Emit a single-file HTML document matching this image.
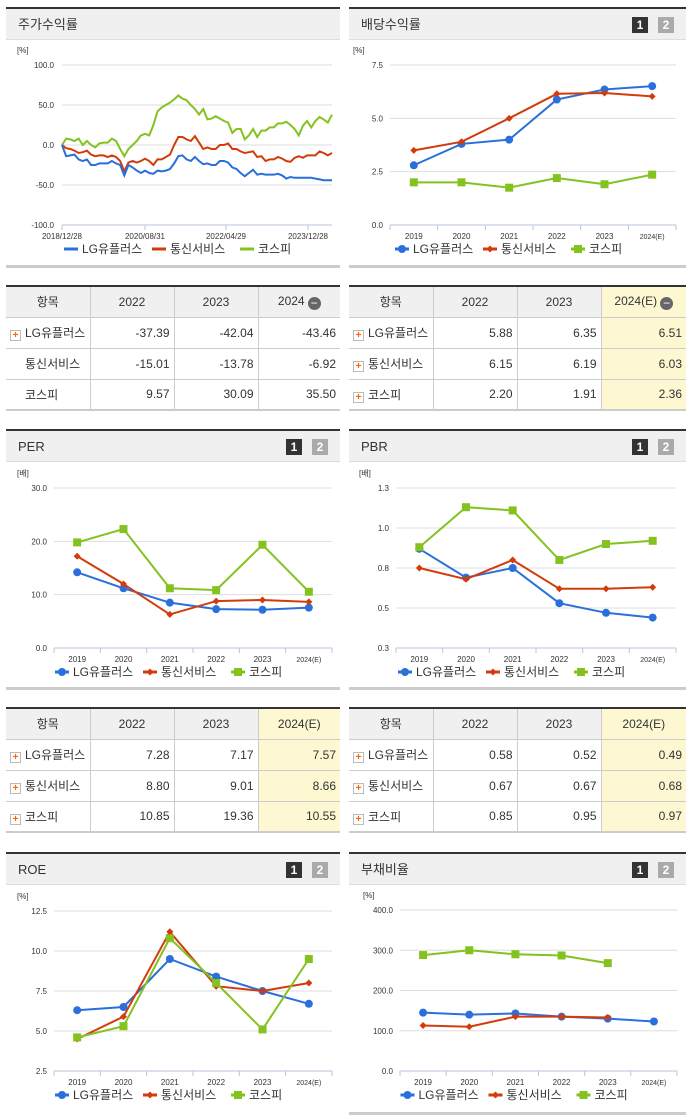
<!DOCTYPE html>
<html><head><meta charset="utf-8">
<style>
*{margin:0;padding:0;box-sizing:border-box}
body{width:691px;height:1115px;background:#fff;position:relative;overflow:hidden;font-family:"Liberation Sans","Noto Sans CJK KR",sans-serif;color:#333}
.panel{position:absolute;border-top:2px solid #333;border-bottom:3px solid #ccc}
.hdr{height:31px;background:#f0f0f0;border-bottom:1px solid #ddd;font-size:13px;line-height:31px;padding-left:12px;position:relative}
.b{position:absolute;top:8px;width:16px;height:16px;font-size:12px;font-weight:bold;color:#fff;text-align:center;line-height:16px}
.b1{right:38px;background:#333}.b2{right:12px;background:#aaa}
table{position:absolute;border-collapse:collapse;border-top:2px solid #333;border-bottom:2px solid #ccc;font-size:12px}
td,th{border:1px solid #ccc;height:31px;font-weight:normal}
th{background:#f0f0f0;text-align:center}
td{text-align:right;padding-right:4px}
td:first-child{text-align:left;padding-left:4px}
tr td:first-child,tr th:first-child{border-left:none}
tr td:last-child,tr th:last-child{border-right:none}
.hl{background:#fdf8d2}
.pl{display:inline-block;width:11px;height:11px;border:1px solid #bbb;color:#f60;font-size:10px;line-height:9px;text-align:center;font-weight:bold;margin-right:4px;vertical-align:-1px;background:#fff}
.mi{display:inline-block;width:13px;height:13px;border-radius:50%;background:#666;color:#fff;line-height:12px;font-size:12px;vertical-align:-2px;margin-left:3px}
svg{position:absolute;left:0;top:0}
svg text{font-family:"Liberation Sans","Noto Sans CJK KR",sans-serif}
</style></head><body>
<svg id="sv" width="691" height="1115"></svg>

<div class="panel" style="left:6px;top:7px;width:334px;height:261px"><div class="hdr">주가수익률</div></div>
<div class="panel" style="left:349px;top:7px;width:337px;height:261px"><div class="hdr">배당수익률<span class="b b1">1</span><span class="b b2">2</span></div></div>
<div class="panel" style="left:6px;top:429px;width:334px;height:261px"><div class="hdr">PER<span class="b b1">1</span><span class="b b2">2</span></div></div>
<div class="panel" style="left:349px;top:429px;width:337px;height:261px"><div class="hdr">PBR<span class="b b1">1</span><span class="b b2">2</span></div></div>
<div class="panel" style="left:6px;top:852px;width:334px;height:263px;border-bottom:none"><div class="hdr">ROE<span class="b b1">1</span><span class="b b2">2</span></div></div>
<div class="panel" style="left:349px;top:852px;width:337px;height:263px;border-bottom:3px solid #ccc"><div class="hdr">부채비율<span class="b b1">1</span><span class="b b2">2</span></div></div>

<table style="left:6px;top:285px;width:334px">
<tr><th style="width:84px">항목</th><th style="width:84px">2022</th><th style="width:84px">2023</th><th>2024<span class="mi">−</span></th></tr>
<tr><td><span class="pl">+</span>LG유플러스</td><td>-37.39</td><td>-42.04</td><td>-43.46</td></tr>
<tr><td style="padding-left:19px">통신서비스</td><td>-15.01</td><td>-13.78</td><td>-6.92</td></tr>
<tr><td style="padding-left:19px">코스피</td><td>9.57</td><td>30.09</td><td>35.50</td></tr></table>

<table style="left:349px;top:285px;width:337px">
<tr><th style="width:84px">항목</th><th style="width:84px">2022</th><th style="width:84px">2023</th><th class="hl">2024(E)<span class="mi">−</span></th></tr>
<tr><td><span class="pl">+</span>LG유플러스</td><td>5.88</td><td>6.35</td><td class="hl">6.51</td></tr>
<tr><td><span class="pl">+</span>통신서비스</td><td>6.15</td><td>6.19</td><td class="hl">6.03</td></tr>
<tr><td><span class="pl">+</span>코스피</td><td>2.20</td><td>1.91</td><td class="hl">2.36</td></tr></table>

<table style="left:6px;top:707px;width:334px">
<tr><th style="width:84px">항목</th><th style="width:84px">2022</th><th style="width:84px">2023</th><th class="hl">2024(E)</th></tr>
<tr><td><span class="pl">+</span>LG유플러스</td><td>7.28</td><td>7.17</td><td class="hl">7.57</td></tr>
<tr><td><span class="pl">+</span>통신서비스</td><td>8.80</td><td>9.01</td><td class="hl">8.66</td></tr>
<tr><td><span class="pl">+</span>코스피</td><td>10.85</td><td>19.36</td><td class="hl">10.55</td></tr></table>

<table style="left:349px;top:707px;width:337px">
<tr><th style="width:84px">항목</th><th style="width:84px">2022</th><th style="width:84px">2023</th><th class="hl">2024(E)</th></tr>
<tr><td><span class="pl">+</span>LG유플러스</td><td>0.58</td><td>0.52</td><td class="hl">0.49</td></tr>
<tr><td><span class="pl">+</span>통신서비스</td><td>0.67</td><td>0.67</td><td class="hl">0.68</td></tr>
<tr><td><span class="pl">+</span>코스피</td><td>0.85</td><td>0.95</td><td class="hl">0.97</td></tr></table>

<script>
const years = ["2019","2020","2021","2022","2023","2024(E)"];
const divLG = [2.8,3.8,4.0,5.88,6.35,6.51];
const divTel = [3.5,3.9,5.0,6.15,6.19,6.03];
const divKos = [2.0,2.0,1.75,2.2,1.91,2.36];
const perLG = [14.2,11.2,8.5,7.28,7.17,7.57];
const perTel = [17.2,12.0,6.3,8.8,9.01,8.66];
const perKos = [19.8,22.3,11.2,10.85,19.36,10.55];
const pbrLG = [0.92,0.74,0.8,0.58,0.52,0.49];
const pbrTel = [0.80,0.73,0.85,0.67,0.67,0.68];
const pbrKos = [0.93,1.18,1.16,0.85,0.95,0.97];
const pbrTickLabels = ["0.3","0.5","0.8","1.0","1.3"];
const roeLG = [6.3,6.5,9.5,8.4,7.5,6.7];
const roeTel = [4.5,5.9,11.2,7.8,7.5,8.0];
const roeKos = [4.6,5.3,10.8,8.0,5.1,9.5];
const debtLG = [145,140,143,135,130,123];
const debtTel = [113,110,135,135,133,null];
const debtKos = [288,300,290,287,268,null];
const stockDates = ["2018/12/28","2020/08/31","2022/04/29","2023/12/28"];
const stockKos = [0,8,7,5,8,0,5,0,-3,2,3,3,8,5,-5,-14,-5,0,5,12,14,12,25,42,47,50,53,57,62,58,56,50,45,38,45,32,33,36,33,30,28,15,20,20,7,12,20,10,18,18,22,22,27,27,29,25,20,12,24,30,22,30,35,32,28,38];
const stockTel = [0,-4,-5,-7,-10,-9,-7,-12,-14,-13,-13,-15,-13,-15,-20,-33,-22,-20,-22,-20,-17,-20,-25,-18,-18,-15,-12,0,10,10,7,5,11,3,-5,-3,-5,-5,0,0,2,-5,-5,-8,-10,-9,-8,-15,-14,-20,-18,-18,-15,-17,-20,-21,-16,-14,-16,-13,-13,-13,-8,-10,-13,-10];
const stockLG = [0,-14,-13,-12,-18,-20,-18,-25,-25,-23,-23,-23,-20,-23,-25,-38,-25,-28,-32,-35,-32,-35,-36,-32,-33,-32,-30,-23,-14,-13,-18,-20,-15,-20,-24,-23,-25,-25,-20,-20,-22,-28,-30,-35,-39,-35,-31,-37,-36,-37,-37,-37,-36,-38,-42,-40,-41,-41,-41,-41,-41,-42,-43,-44,-44,-44];
const stockTicks = [100,50,0,-50,-100];

const NS="http://www.w3.org/2000/svg";
const sv=document.getElementById('sv');
const C={b:'#2a6fdb',r:'#d23c0c',g:'#84c21f'};
function mk(tag,at,parent){const e=document.createElementNS(NS,tag);for(const k in at)e.setAttribute(k,at[k]);(parent||sv).appendChild(e);return e;}
function txt(x,y,s,size,anchor,fill){const t=mk('text',{x:x,y:y,'font-size':size,'text-anchor':anchor||'start',fill:fill||'#333'});t.textContent=s;return t;}
function legend(cx,y,markers){
  const g=mk('g',{});
  
  
  const items=[['LG유플러스',C.b,'circle'],['통신서비스',C.r,'diamond'],['코스피',C.g,'square']];
  let x=cx-133;
  items.forEach((it,i)=>{
    const e=mk('g',{},g);
    
    
    mk('line',{x1:x,y1:y-4,x2:x+14,y2:y-4,stroke:it[1],'stroke-width':3},e);
    if(markers)marker(x+7,y-4,it[2],it[1],e);
    const t=mk('text',{x:x+18,y:y,'font-size':12,fill:'#333'},e);t.textContent=it[0];
    x+= i==0?88:(i==1?88:0);
  });
}
function marker(x,y,type,col,p){
  if(type=='circle')mk('circle',{cx:x,cy:y,r:4,fill:col},p);
  else if(type=='diamond')mk('polygon',{points:`${x},${y-3.5} ${x+3.5},${y} ${x},${y+3.5} ${x-3.5},${y}`,fill:col},p);
  else mk('rect',{x:x-4,y:y-4,width:8,height:8,fill:col},p);
}
function catChart(o){
  const {x0,x1,yTop,yBot,min,max,ticks,fmt,unit,series,name}=o;
  const g=mk('g',{});
  
  
  const ys=v=>yBot-(v-min)/(max-min)*(yBot-yTop);
  const bw=(x1-x0)/years.length;
  const xs=i=>x0+bw*(i+0.5);
  txt(x0-37,yTop-12,unit,8,'start','#333');
  ticks.forEach((t,i)=>{const y=ys(t);mk('line',{x1:x0,x2:x1,y1:y,y2:y,stroke:'#ddd'},g);txt(x0-7,y+3,fmt(t,i),8,'end');});
  mk('line',{x1:x0,x2:x1,y1:yBot,y2:yBot,stroke:'#b8c4d8'},g);
  for(let i=0;i<=years.length;i++)mk('line',{x1:x0+bw*i,x2:x0+bw*i,y1:yBot,y2:yBot+5,stroke:'#b8c4d8'},g);
  years.forEach((yr,i)=>txt(xs(i),yBot+14,yr,i==5?7:8,'middle'));
  series.forEach(s=>{
    const pts=[];s.d.forEach((v,i)=>{if(v!=null)pts.push([xs(i),ys(v)]);});
    const l=mk('polyline',{points:pts.map(p=>p.join(',')).join(' '),fill:'none',stroke:s.c,'stroke-width':2},g);
    
    
    pts.forEach(p=>marker(p[0],p[1],s.m,s.c,g));
  });
  legend((x0+x1)/2-5,yBot+28,true);
}
(function(){
  const x0=62,x1=332,yTop=65,yBot=225;
  const g=mk('g',{});
  
  
  const ys=v=>yBot-(v+100)/200*(yBot-yTop);
  const n=stockKos.length;const xs=i=>x0+(x1-x0)*i/(n-1);
  txt(17,53,'[%]',8);
  stockTicks.forEach(t=>{const y=ys(t);mk('line',{x1:x0,x2:x1,y1:y,y2:y,stroke:'#ddd'},g);txt(x0-8,y+3,t.toFixed(1),8,'end');});
  mk('line',{x1:x0,x2:x1,y1:yBot,y2:yBot,stroke:'#b8c4d8'},g);
  const dx=[62,145,226,308];
  stockDates.forEach((d,i)=>{mk('line',{x1:dx[i],x2:dx[i],y1:yBot,y2:yBot+5,stroke:'#b8c4d8'},g);txt(dx[i],yBot+14,d,8,'middle');});
  [[stockKos,C.g,'kospi'],[stockTel,C.r,'telecom'],[stockLG,C.b,'lg-uplus']].forEach(s=>{
    const l=mk('polyline',{points:s[0].map((v,i)=>xs(i)+','+ys(v)).join(' '),fill:'none',stroke:s[1],'stroke-width':2},g);
    
    
  });
  legend(197,253,false);
})();
const S=(a,b,c)=>[{d:a,c:C.b,m:'circle',n:'lg-uplus'},{d:b,c:C.r,m:'diamond',n:'telecom'},{d:c,c:C.g,m:'square',n:'kospi'}];
catChart({name:'dividend-chart',x0:390,x1:676,yTop:65,yBot:225,min:0,max:7.5,ticks:[0,2.5,5,7.5],fmt:t=>t.toFixed(1),unit:'[%]',series:S(divLG,divTel,divKos)});
catChart({name:'per-chart',x0:54,x1:332,yTop:488,yBot:648,min:0,max:30,ticks:[0,10,20,30],fmt:t=>t.toFixed(1),unit:'[배]',series:S(perLG,perTel,perKos)});
catChart({name:'pbr-chart',x0:396,x1:676,yTop:488,yBot:648,min:0.3,max:1.3,ticks:[0.3,0.55,0.8,1.05,1.3],fmt:(t,i)=>pbrTickLabels[i],unit:'[배]',series:S(pbrLG,pbrTel,pbrKos)});
catChart({name:'roe-chart',x0:54,x1:332,yTop:911,yBot:1071,min:2.5,max:12.5,ticks:[2.5,5,7.5,10,12.5],fmt:t=>t.toFixed(1),unit:'[%]',series:S(roeLG,roeTel,roeKos)});
catChart({name:'debt-chart',x0:400,x1:677,yTop:910,yBot:1071,min:0,max:400,ticks:[0,100,200,300,400],fmt:t=>t.toFixed(1),unit:'[%]',series:S(debtLG,debtTel,debtKos)});
</script>
</body></html>
